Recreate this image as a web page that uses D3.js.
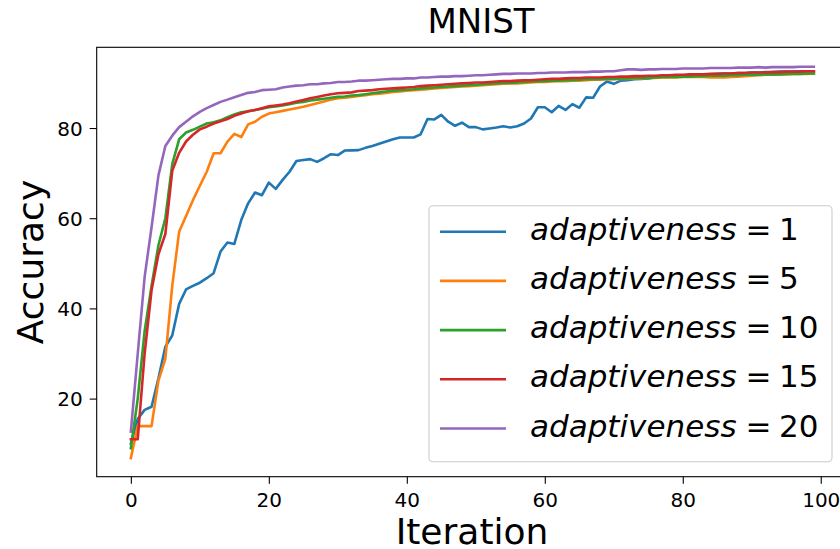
<!DOCTYPE html>
<html>
<head>
<meta charset="utf-8">
<script src="https://cdn.jsdelivr.net/npm/d3@7"></script>
<style>
html,body{margin:0;padding:0;background:#fff;}
svg{display:block;font-family:"DejaVu Sans",sans-serif;}
</style>
</head>
<body>
<svg id="chart" width="840" height="549"></svg>
<script>
const titleText = "MNIST";
const xLabel = "Iteration";
const yLabel = "Accuracy";
const xTicks = [0, 20, 40, 60, 80, 100];
const yTicks = [20, 40, 60, 80];
const seriesNames = ["1", "5", "10", "15", "20"];
const seriesColors = ["#1f77b4", "#ff7f0e", "#2ca02c", "#d62728", "#9467bd"];

const acc1 = [10,15.5,17.5,18.2,24.5,31.5,34,41,44.2,45,45.7,46.7,47.8,52.6,54.6,54.3,59.6,63.3,65.7,65.1,
67.9,66.5,68.5,70.3,72.7,72.9,73.1,72.5,73.3,74.2,74.0,75.0,75.05,75.1,75.6,76.0,76.5,77.0,77.5,77.9,
77.9,77.9,78.6,82.0,81.9,82.9,81.4,80.5,81.2,80.2,80.2,79.7,79.9,80.1,80.4,80.1,80.4,81.0,82.1,84.6,
84.6,83.5,84.9,84.0,85.3,84.5,86.8,86.7,89.2,90.3,89.8,90.5,90.6,90.8,90.9,91.0,91.2,91.3,91.4,91.5,
91.6,91.7,91.8,91.9,91.9,92.0,92.1,92.1,92.2,92.2,92.3,92.3,92.4,92.4,92.5,92.5,92.5,92.6,92.6,92.6];

const acc5 = [6.8,13.9,13.9,13.9,24,28.8,45,57,60.5,64,67.2,70.3,74.4,74.4,77,78.7,78,80.8,81.4,82.5,
83.2,83.5,83.8,84.1,84.4,84.7,85.1,85.5,85.9,86.3,86.6,86.7,86.9,87.1,87.3,87.5,87.6,87.8,88.0,88.1,
88.3,88.4,88.5,88.6,88.8,88.9,89.0,89.1,89.2,89.3,89.4,89.5,89.6,89.7,89.8,89.9,89.9,90.0,90.1,90.2,
90.2,90.3,90.4,90.4,90.5,90.5,90.6,90.7,90.7,90.8,90.8,90.9,90.9,91.0,91.0,91.1,91.1,91.2,91.2,91.2,
91.3,91.3,91.3,91.3,91.2,91.2,91.2,91.3,91.4,91.5,91.6,91.7,91.8,91.8,91.9,91.9,92.0,92.0,92.0,92.1];

const acc10 = [9.0,20,35,45,54,60,72,77.5,79,79.6,80.3,81,81.3,81.7,82.4,83,83.5,83.7,84,84.3,
84.6,84.8,85,85.3,85.6,85.8,86.1,86.3,86.5,86.7,86.9,87.0,87.2,87.3,87.5,87.7,87.9,88.1,88.3,88.4,
88.5,88.6,88.8,88.9,89.0,89.1,89.2,89.3,89.4,89.5,89.6,89.7,89.8,89.9,90.0,90.0,90.1,90.2,90.3,90.3,
90.4,90.5,90.5,90.6,90.6,90.7,90.8,90.8,90.9,90.9,90.9,91.0,91.0,91.1,91.1,91.1,91.2,91.3,91.3,91.3,
91.4,91.4,91.5,91.5,91.6,91.6,91.6,91.7,91.7,91.8,91.8,91.8,91.9,91.9,91.9,92.0,92.0,92.0,92.1,92.1];

const acc15 = [11.0,11.0,30,44,52,56.5,70.5,74.5,77,78.5,79.7,80.3,81,81.5,82,82.7,83.2,83.7,84,84.4,
84.8,85,85.2,85.5,85.9,86.2,86.6,86.9,87.2,87.5,87.7,87.8,87.9,88.2,88.3,88.4,88.6,88.7,88.8,88.9,
89.0,89.1,89.3,89.4,89.5,89.6,89.7,89.8,89.9,90.0,90.1,90.1,90.2,90.3,90.4,90.4,90.5,90.6,90.6,90.7,
90.8,90.9,90.9,91.0,91.1,91.1,91.2,91.2,91.2,91.3,91.3,91.4,91.4,91.5,91.5,91.6,91.6,91.7,91.7,91.8,
91.8,91.9,91.9,91.9,92.0,92.0,92.1,92.1,92.2,92.2,92.3,92.3,92.3,92.4,92.4,92.5,92.5,92.5,92.6,92.6];

const acc20 = [12.7,30,47,58,69.5,76,78.3,80.2,81.4,82.6,83.6,84.4,85.1,85.8,86.3,86.8,87.3,87.8,88.0,88.4,
88.5,88.6,89.0,89.2,89.4,89.5,89.7,89.7,89.9,90.0,90.2,90.2,90.3,90.5,90.5,90.6,90.7,90.8,90.9,90.9,
91.0,91.0,91.2,91.2,91.3,91.4,91.4,91.5,91.5,91.6,91.7,91.7,91.8,91.9,92.0,92.0,92.1,92.1,92.1,92.2,
92.2,92.3,92.3,92.3,92.4,92.4,92.4,92.5,92.5,92.6,92.6,92.8,93.0,93.0,92.9,93.0,93.0,93.1,93.1,93.1,
93.2,93.2,93.2,93.2,93.3,93.3,93.3,93.3,93.4,93.4,93.4,93.5,93.4,93.5,93.5,93.5,93.5,93.6,93.6,93.6];

const seriesValues = [acc1, acc5, acc10, acc15, acc20];

const svg = d3.select("#chart");
const L = 96.7, R = 848, T = 47.3, B = 476.7;

const x = d3.scaleLinear().domain([-4.95, 103.95]).range([L, R]);
const y = d3.scaleLinear().domain([2.68, 97.9]).range([B, T]);

svg.append("defs").append("clipPath").attr("id", "clip")
  .append("rect").attr("x", L).attr("y", T).attr("width", R - L).attr("height", B - T);

const line = d3.line().x((d, i) => x(i)).y(d => y(d));

const g = svg.append("g").attr("clip-path", "url(#clip)");
seriesValues.forEach((vals, k) => {
  g.append("path").datum(vals)
    .attr("d", line)
    .attr("fill", "none")
    .attr("stroke", seriesColors[k])
    .attr("stroke-width", 2.6)
    .attr("stroke-linejoin", "round")
    .attr("stroke-linecap", "square");
});

// axes
const xAxis = d3.axisBottom(x).tickValues(xTicks).tickSize(7).tickPadding(7).tickFormat(d3.format("d"));
const yAxis = d3.axisLeft(y).tickValues(yTicks).tickSize(7).tickPadding(7).tickFormat(d3.format("d"));

const gx = svg.append("g").attr("transform", `translate(0,${B})`).call(xAxis);
const gy = svg.append("g").attr("transform", `translate(${L},0)`).call(yAxis);
[gx, gy].forEach(ax => {
  ax.select(".domain").remove();
  ax.selectAll("line").attr("stroke", "#000").attr("stroke-width", 1.1);
  ax.selectAll("text").attr("fill", "#000").attr("font-size", 20).attr("font-family", "DejaVu Sans");
});
gx.selectAll("text").attr("dy", null).attr("y", 30);
gy.selectAll("text").attr("dy", "0.36em");

// spines
svg.append("rect").attr("x", L).attr("y", T).attr("width", R - L).attr("height", B - T)
  .attr("fill", "none").attr("stroke", "#000").attr("stroke-width", 1.1);

// title & labels
svg.append("text").attr("x", 481).attr("y", 33).attr("text-anchor", "middle")
  .attr("font-size", 34).attr("fill", "#000").text(titleText);
svg.append("text").attr("x", 472).attr("y", 544).attr("text-anchor", "middle")
  .attr("font-size", 36).attr("fill", "#000").text(xLabel);
svg.append("text").attr("transform", `translate(43,${(T + B) / 2}) rotate(-90)`)
  .attr("text-anchor", "middle").attr("font-size", 36).attr("fill", "#000").text(yLabel);

// legend
const leg = svg.append("g");
leg.append("rect").attr("x", 429).attr("y", 205.7).attr("width", 403).attr("height", 256)
  .attr("rx", 4).attr("fill", "#fff").attr("fill-opacity", 0.8)
  .attr("stroke", "#cccccc").attr("stroke-width", 1.1);
const rowY = d3.scalePoint().domain(seriesNames).range([231.7, 428.5]);
seriesNames.forEach((name, k) => {
  const yy = rowY(name);
  leg.append("line").attr("x1", 440).attr("x2", 506).attr("y1", yy).attr("y2", yy)
    .attr("stroke", seriesColors[k]).attr("stroke-width", 2.6);
  const t = leg.append("text").attr("x", 530).attr("y", yy + 8).attr("font-size", 31).attr("fill", "#000");
  t.append("tspan").attr("font-style", "italic").text("adaptiveness");
  t.append("tspan").attr("dx", 9).text("=");
  t.append("tspan").attr("dx", 7.5).text(name);
});
</script>
</body>
</html>
